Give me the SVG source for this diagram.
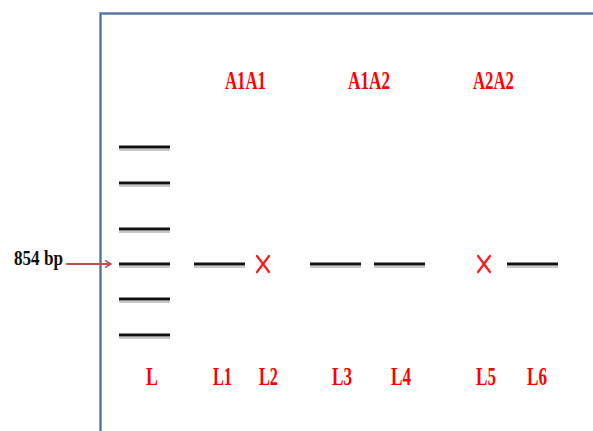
<svg xmlns="http://www.w3.org/2000/svg" width="593" height="431" viewBox="0 0 593 431">
<style>
.lbl{font-family:"Liberation Serif","Times New Roman",serif;font-weight:bold;fill:#ff0000;font-size:26px;text-anchor:middle}
.band{stroke:#111;stroke-width:3}
.shadow{stroke:#c8c8c8;stroke-width:2}
.x{stroke:#ff1a1a;stroke-width:2.2;stroke-linecap:round}
</style>
<defs>
<marker id="ah" markerWidth="8" markerHeight="8" refX="7" refY="4" orient="auto" markerUnits="userSpaceOnUse">
<path d="M1,0.5 L7,4 L1,7.5" fill="none" stroke="#c0504d" stroke-width="1.6"/>
</marker>
</defs>
<rect width="593" height="431" fill="#ffffff"/>
<g id="frame">
<path d="M100.5,431 V13.5 H593" fill="none" stroke="#9bb0cc" stroke-width="3"/>
<path d="M100.5,431 V13.5 H593" fill="none" stroke="#4f6f99" stroke-width="1.5"/>
</g>
<g id="headers">
<text class="lbl" x="245.5" y="89" textLength="41" lengthAdjust="spacingAndGlyphs">A1A1</text>
<text class="lbl" x="369" y="89" textLength="42" lengthAdjust="spacingAndGlyphs">A1A2</text>
<text class="lbl" x="493.5" y="89" textLength="41" lengthAdjust="spacingAndGlyphs">A2A2</text>
</g>
<g id="ladder">
<line class="shadow" x1="119" y1="150" x2="170" y2="150"/>
<line class="shadow" x1="119" y1="186" x2="170" y2="186"/>
<line class="shadow" x1="119" y1="232" x2="170" y2="232"/>
<line class="shadow" x1="119" y1="267" x2="170" y2="267"/>
<line class="shadow" x1="119" y1="302" x2="170" y2="302"/>
<line class="shadow" x1="119" y1="338" x2="170" y2="338"/>
<line class="band" x1="119" y1="147" x2="170" y2="147"/>
<line class="band" x1="119" y1="183" x2="170" y2="183"/>
<line class="band" x1="119" y1="229" x2="170" y2="229"/>
<line class="band" x1="119" y1="264" x2="170" y2="264"/>
<line class="band" x1="119" y1="299" x2="170" y2="299"/>
<line class="band" x1="119" y1="335" x2="170" y2="335"/>
</g>
<g id="lane-bands">
<line class="shadow" x1="194" y1="267" x2="245" y2="267"/>
<line class="shadow" x1="310" y1="267" x2="361" y2="267"/>
<line class="shadow" x1="374" y1="267" x2="425" y2="267"/>
<line class="shadow" x1="507" y1="267" x2="558" y2="267"/>
<line class="band" x1="194" y1="264" x2="245" y2="264"/>
<line class="band" x1="310" y1="264" x2="361" y2="264"/>
<line class="band" x1="374" y1="264" x2="425" y2="264"/>
<line class="band" x1="507" y1="264" x2="558" y2="264"/>
</g>
<g id="absent-L2">
<line class="x" x1="257" y1="256" x2="269" y2="272"/>
<line class="x" x1="269" y1="256" x2="257" y2="272"/>
</g>
<g id="absent-L5">
<line class="x" x1="478" y1="256" x2="490" y2="272"/>
<line class="x" x1="490" y1="256" x2="478" y2="272"/>
</g>
<g id="marker-label">
<text x="38.5" y="265" font-family="'Liberation Serif','Times New Roman',serif" font-size="22" font-weight="bold" fill="#111" text-anchor="middle" textLength="49" lengthAdjust="spacingAndGlyphs">854 bp</text>
</g>
<g id="connectors">
<line x1="66" y1="264" x2="111" y2="264" stroke="#c0504d" stroke-width="1.8" marker-end="url(#ah)"/>
</g>
<g id="lane-labels">
<text class="lbl" x="152" y="385" textLength="12" lengthAdjust="spacingAndGlyphs">L</text>
<text class="lbl" x="222.5" y="385" textLength="19" lengthAdjust="spacingAndGlyphs">L1</text>
<text class="lbl" x="268.5" y="385" textLength="19" lengthAdjust="spacingAndGlyphs">L2</text>
<text class="lbl" x="342" y="385" textLength="20" lengthAdjust="spacingAndGlyphs">L3</text>
<text class="lbl" x="401" y="385" textLength="20" lengthAdjust="spacingAndGlyphs">L4</text>
<text class="lbl" x="486" y="385" textLength="20" lengthAdjust="spacingAndGlyphs">L5</text>
<text class="lbl" x="537" y="385" textLength="20" lengthAdjust="spacingAndGlyphs">L6</text>
</g>
</svg>
